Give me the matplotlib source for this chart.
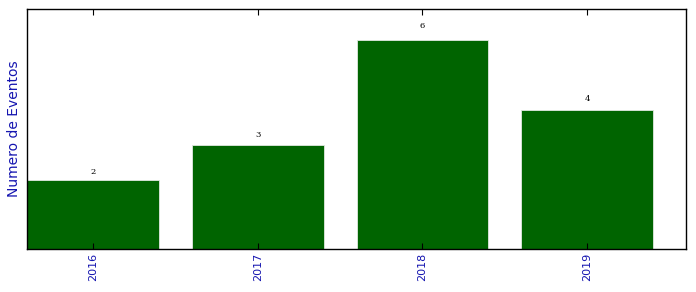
import matplotlib
matplotlib.use('Agg')
import matplotlib.pyplot as plt

years = ['2016', '2017', '2018', '2019']
eventos = [2, 3, 6, 4]

fig = plt.figure(figsize=(6.96, 2.92), dpi=100)
ax = fig.add_axes([0.0388, 0.147, 0.947, 0.822])

pos = range(len(years))
bars = ax.bar(pos, eventos, width=0.8, color='darkgreen', edgecolor='#e0e8e0', linewidth=0.6)

for b, v in zip(bars, eventos):
    ax.text(b.get_x() + b.get_width() / 2, 1.05 * v, str(v), ha='center', va='bottom',
            fontsize=6, family='DejaVu Serif')

ax.set_xlim(-0.4, 3.6)
ax.set_ylim(0, max(eventos) * 1.15)
ax.set_xticks(list(pos))
ax.set_xticklabels(years, rotation=90, color='#1515b0', fontsize=8)
ax.set_yticks([])
ax.set_ylabel('Numero de Eventos', color='#1515b0', fontsize=10)
ax.tick_params(axis='x', direction='in', top=True, length=4, pad=3)
for s in ax.spines.values():
    s.set_linewidth(1.0)

fig.savefig('out.png', dpi=100)
